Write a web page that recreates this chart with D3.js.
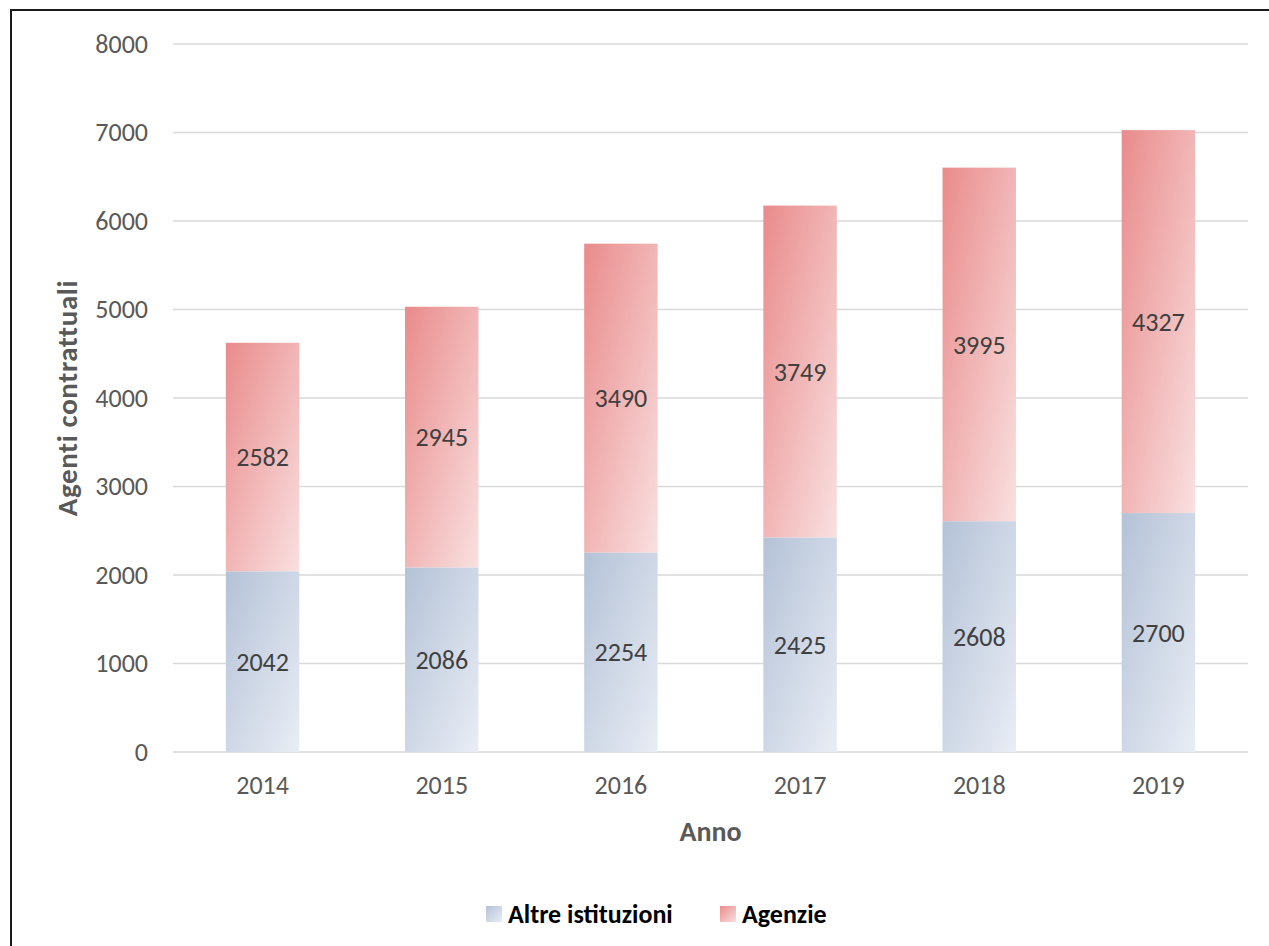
<!DOCTYPE html>
<html>
<head>
<meta charset="utf-8">
<script src="https://cdn.jsdelivr.net/npm/d3@7"></script>
<style>
  body { margin: 0; background: #fff; }
  svg { display: block; font-family: Carlito, Calibri, Lato, sans-serif; }
</style>
</head>
<body>
<script>
// data
var years = ["2014", "2015", "2016", "2017", "2018", "2019"];
var altre = [2042, 2086, 2254, 2425, 2608, 2700];
var agenzie = [2582, 2945, 3490, 3749, 3995, 4327];
var seriesNames = ["Altre istituzioni", "Agenzie"];
var yTicks = [0, 1000, 2000, 3000, 4000, 5000, 6000, 7000, 8000];

var W = 1269, H = 946;
var margin = {left: 173, right: 21, top: 44, bottom: 194};
var width = W - margin.left - margin.right,
    height = H - margin.top - margin.bottom;

var svg = d3.select("body").append("svg")
    .attr("width", W)
    .attr("height", H);

// gradients
var defs = svg.append("defs");
function grad(id, c1, c2) {
  var g = defs.append("linearGradient").attr("id", id)
    .attr("x1", "0%").attr("y1", "0%").attr("x2", "100%").attr("y2", "100%");
  g.append("stop").attr("offset", "0%").attr("stop-color", c1);
  g.append("stop").attr("offset", "100%").attr("stop-color", c2);
}
grad("gBlue", "#b4c2d7", "#e9edf5");
grad("gPink", "#e98b8b", "#f9e0e0");
var fills = ["url(#gBlue)", "url(#gPink)"];

// border
svg.append("rect")
    .attr("x", 11).attr("y", 10)
    .attr("width", W + 20).attr("height", H + 20)
    .attr("fill", "none")
    .attr("stroke", "#1a1a1a")
    .attr("stroke-width", 2);

var g = svg.append("g")
    .attr("transform", "translate(" + margin.left + "," + margin.top + ")");

var x = d3.scaleBand().domain(years).range([0, width]).paddingInner(0.59).paddingOuter(0.295);
var y = d3.scaleLinear().domain([0, 8000]).range([height, 0]);

// grid
g.selectAll(".grid").data(yTicks).enter().append("line")
    .attr("x1", 0).attr("x2", width)
    .attr("y1", function(d) { return y(d); })
    .attr("y2", function(d) { return y(d); })
    .attr("stroke", "#d9d9d9")
    .attr("stroke-width", 1.5);

// y axis labels
var yAxis = d3.axisLeft(y).tickValues(yTicks).tickFormat(d3.format("d")).tickSize(0).tickPadding(25);
var gy = g.append("g").call(yAxis);
gy.select(".domain").remove();
gy.selectAll("text").attr("font-size", 26).attr("fill", "#595959")
    .attr("font-family", "Carlito, Calibri, Lato, sans-serif");

// x axis labels
var xAxis = d3.axisBottom(x).tickSize(0).tickPadding(24);
var gx = g.append("g").attr("transform", "translate(0," + height + ")").call(xAxis);
gx.select(".domain").remove();
gx.selectAll("text").attr("font-size", 26).attr("fill", "#595959")
    .attr("font-family", "Carlito, Calibri, Lato, sans-serif");

// stacked bars
var rows = years.map(function(yr, i) { return {year: yr, altre: altre[i], agenzie: agenzie[i]}; });
var stack = d3.stack().keys(["altre", "agenzie"])(rows);

var layers = g.selectAll(".layer").data(stack).enter().append("g")
    .attr("fill", function(d, i) { return fills[i]; });

layers.selectAll("rect").data(function(d) { return d; }).enter().append("rect")
    .attr("x", function(d) { return x(d.data.year); })
    .attr("y", function(d) { return y(d[1]); })
    .attr("width", x.bandwidth())
    .attr("height", function(d) { return y(d[0]) - y(d[1]); });

layers.selectAll("text").data(function(d) { return d; }).enter().append("text")
    .attr("x", function(d) { return x(d.data.year) + x.bandwidth() / 2; })
    .attr("y", function(d) { return y((d[0] + d[1]) / 2); })
    .attr("dy", "0.35em")
    .attr("text-anchor", "middle")
    .attr("font-size", 26)
    .attr("fill", "#404040")
    .text(function(d) { return d[1] - d[0]; });

// axis titles
g.append("text")
    .attr("x", width / 2).attr("y", height + 89)
    .attr("text-anchor", "middle")
    .attr("font-size", 28).attr("font-weight", "bold").attr("fill", "#595959")
    .text("Anno");

g.append("text")
    .attr("transform", "translate(" + (-96) + "," + (y(4000)) + ") rotate(-90)")
    .attr("text-anchor", "middle")
    .attr("font-size", 29).attr("font-weight", "bold").attr("fill", "#595959")
    .attr("letter-spacing", 0.6)
    .text("Agenti contrattuali");

// legend
var legendX = [486, 720];
var legend = svg.selectAll(".legend").data(seriesNames).enter().append("g")
    .attr("transform", function(d, i) { return "translate(" + legendX[i] + ",906)"; });
legend.append("rect")
    .attr("width", 16).attr("height", 16)
    .attr("fill", function(d, i) { return fills[i]; });
legend.append("text")
    .attr("x", 22).attr("y", 8).attr("dy", "0.35em")
    .attr("font-size", 26).attr("font-weight", "bold").attr("fill", "#000")
    .text(function(d) { return d; });
</script>
</body>
</html>
